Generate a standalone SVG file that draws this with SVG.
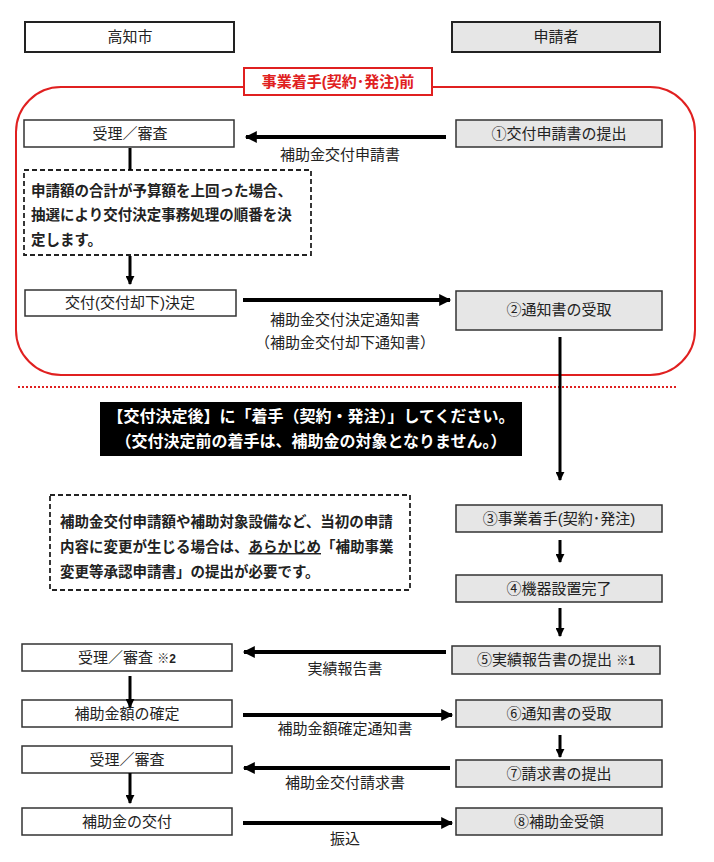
<svg xmlns="http://www.w3.org/2000/svg" width="714" height="862" viewBox="0 0 714 862">
<style>
text{font-family:"Liberation Sans","Noto Sans CJK JP",sans-serif;font-size:15px;fill:#222}
.c{text-anchor:middle}
.b{font-weight:bold;font-size:14.5px}
.bb{font-weight:bold;font-size:16px;fill:#fff}
.w{fill:#fff;stroke:#333;stroke-width:1.5}
.g{fill:#e6e6e6;stroke:#333;stroke-width:1.5}
.d{fill:#fff;stroke:#222;stroke-width:1.8;stroke-dasharray:5,3}
.l{stroke:#000;stroke-width:4;fill:none}
</style>
<defs><marker id="a" viewBox="0 0 10 10" refX="9" refY="5" markerWidth="3.2" markerHeight="3" orient="auto" markerUnits="strokeWidth"><path d="M0,0L10,5L0,10z" fill="#000"/></marker></defs>
<g id="hdr-city"><rect x="25" y="22" width="209" height="30" fill="#fff" stroke="#222" stroke-width="2"/><text class="c" x="130" y="42">高知市</text></g>
<g id="hdr-app"><rect x="452" y="22" width="208" height="30" fill="#e6e6e6" stroke="#222" stroke-width="2"/><text class="c" x="556" y="42">申請者</text></g>
<g id="before"><rect x="16" y="87" width="679" height="288" rx="45" fill="none" stroke="#e02020" stroke-width="2"/>
<rect x="244" y="68" width="188" height="27" fill="#fff" stroke="#e02020" stroke-width="2"/><text class="c" x="338" y="87" style="fill:#e02020;font-weight:bold">事業着手(契約･発注)前</text></g>
<line x1="18" y1="387" x2="676" y2="387" stroke="#e02020" stroke-width="2" stroke-dasharray="2,2"/>
<g id="n1"><rect class="w" x="24" y="120" width="210" height="27"/><text class="c" x="130" y="139">受理／審査</text></g>
<g id="s1"><rect class="g" x="456" y="120" width="206" height="27"/><text class="c" x="559" y="139">①交付申請書の提出</text></g>
<g id="note1"><rect class="d" x="24" y="170" width="287" height="85"/><text class="b" x="31" y="196">申請額の合計が予算額を上回った場合、</text><text class="b" x="31" y="220">抽選により交付決定事務処理の順番を決</text><text class="b" x="31" y="245">定します。</text></g>
<g id="n2"><rect class="w" x="25" y="290" width="211" height="26"/><text class="c" x="130" y="308">交付(交付却下)決定</text></g>
<g id="s2"><rect class="g" x="456" y="291" width="206" height="39"/><text class="c" x="559" y="315">②通知書の受取</text></g>
<g id="banner"><rect x="100" y="402" width="422" height="54" fill="#000"/><text class="c bb" x="311" y="422">【交付決定後】に「着手（契約・発注）」してください。</text><text class="c bb" x="311" y="447">（交付決定前の着手は、補助金の対象となりません。）</text></g>
<g id="note2"><rect class="d" x="50" y="495" width="360" height="95"/><text class="b" x="60" y="527">補助金交付申請額や補助対象設備など、当初の申請</text><text class="b" x="60" y="552">内容に変更が生じる場合は、<tspan text-decoration="underline">あらかじめ</tspan>「補助事業</text><text class="b" x="60" y="577">変更等承認申請書」の提出が必要です。</text></g>
<g id="s3"><rect class="g" x="456" y="505" width="206" height="27"/><text class="c" x="559" y="524">③事業着手(契約･発注)</text></g>
<g id="s4"><rect class="g" x="456" y="575" width="206" height="27"/><text class="c" x="559" y="594">④機器設置完了</text></g>
<g id="n5"><rect class="w" x="22" y="644" width="210" height="27"/><text class="c" x="127" y="663">受理／審査 <tspan font-weight="bold" font-size="12">※2</tspan></text></g>
<g id="s5"><rect class="g" x="452" y="646" width="208" height="28"/><text class="c" x="556" y="665">⑤実績報告書の提出 <tspan font-weight="bold" font-size="12">※1</tspan></text></g>
<g id="n6"><rect class="w" x="22" y="700" width="210" height="27"/><text class="c" x="127" y="719">補助金額の確定</text></g>
<g id="s6"><rect class="g" x="456" y="700" width="206" height="27"/><text class="c" x="559" y="719">⑥通知書の受取</text></g>
<g id="n7"><rect class="w" x="22" y="746" width="210" height="27"/><text class="c" x="127" y="765">受理／審査</text></g>
<g id="s7"><rect class="g" x="456" y="760" width="206" height="27"/><text class="c" x="559" y="779">⑦請求書の提出</text></g>
<g id="n8"><rect class="w" x="22" y="808" width="210" height="27"/><text class="c" x="127" y="827">補助金の交付</text></g>
<g id="s8"><rect class="g" x="456" y="808" width="206" height="27"/><text class="c" x="559" y="827">⑧補助金受領</text></g>
<g id="connectors">
<line class="l" x1="446" y1="137" x2="246" y2="137" marker-end="url(#a)"/><text class="c" x="340" y="160">補助金交付申請書</text>
<line x1="130" y1="148" x2="130" y2="170" stroke="#000" stroke-width="3"/>
<line x1="130" y1="256" x2="130" y2="284" stroke="#000" stroke-width="3" marker-end="url(#a)"/>
<line class="l" x1="243" y1="300" x2="450" y2="300" marker-end="url(#a)"/><text class="c" x="345" y="325">補助金交付決定通知書</text><text class="c" x="345" y="348">（補助金交付却下通知書）</text>
<line x1="560" y1="337" x2="560" y2="480" stroke="#000" stroke-width="3" marker-end="url(#a)"/>
<line x1="560" y1="540" x2="560" y2="562" stroke="#000" stroke-width="3" marker-end="url(#a)"/>
<line x1="560" y1="608" x2="560" y2="636" stroke="#000" stroke-width="3" marker-end="url(#a)"/>
<line class="l" x1="446" y1="652" x2="244" y2="652" marker-end="url(#a)"/><text class="c" x="345" y="674">実績報告書</text>
<line x1="130" y1="676" x2="130" y2="707" stroke="#000" stroke-width="3" marker-end="url(#a)"/>
<line class="l" x1="243" y1="715" x2="452" y2="715" marker-end="url(#a)"/><text class="c" x="345" y="734">補助金額確定通知書</text>
<line x1="560" y1="735" x2="560" y2="757" stroke="#000" stroke-width="3" marker-end="url(#a)"/>
<line class="l" x1="450" y1="768" x2="244" y2="768" marker-end="url(#a)"/><text class="c" x="345" y="788">補助金交付請求書</text>
<line x1="130" y1="773" x2="130" y2="803" stroke="#000" stroke-width="3" marker-end="url(#a)"/>
<line class="l" x1="243" y1="823" x2="452" y2="823" marker-end="url(#a)"/><text class="c" x="345" y="844">振込</text>
</g>
</svg>
